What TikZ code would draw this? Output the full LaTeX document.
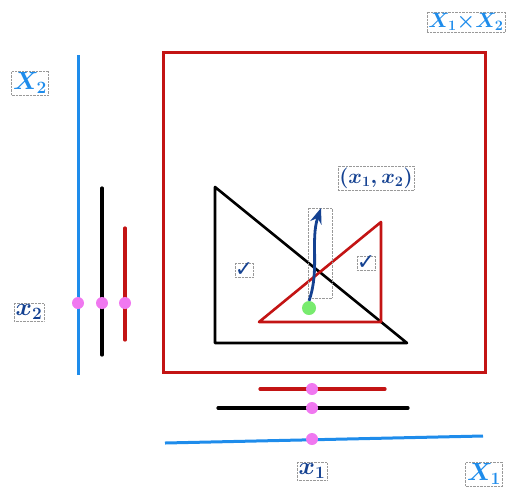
\documentclass[tikz,border=0pt]{standalone}
\usepackage{fontspec}
\newfontfamily\symfont{DejaVu Sans}
\usetikzlibrary{arrows.meta, positioning}
\definecolor{axisblue}{RGB}{30,140,235}
\definecolor{inkblue}{RGB}{20,65,145}
\definecolor{boxred}{RGB}{195,20,20}
\definecolor{dotpink}{RGB}{240,120,240}
\definecolor{dotgreen}{RGB}{120,235,110}

\begin{document}
\begin{tikzpicture}[
    x=1pt, y=-1pt,
    >=Stealth,
    lbl/.style={draw=gray!80, densely dotted, thin, inner sep=1.5pt,
        font=\fontsize{24}{26}\selectfont\boldmath},
    axis/.style={line width=3pt, axisblue},
    seg/.style={line width=3.2pt, line cap=round},
    pdot/.style={circle, fill=dotpink, minimum size=12pt, inner sep=0pt},
    tick/.style={lbl, text=inkblue, font=\symfont\fontsize{22}{22}\selectfont\bfseries, inner sep=0pt},
]
\useasboundingbox (0,0) rectangle (510,493);
% === Axes ===
\coordinate (ytop) at (78,55);
\coordinate (ybot) at (78,375);
\coordinate (xleft) at (165,443);
\coordinate (xright) at (483,436);
\draw[axis] (ytop) -- (ybot);
\draw[axis] (xleft) -- (xright);
\node[lbl, text=axisblue] (Ytwo) at (30,83) {$X_2$};
\node[lbl, text=axisblue] (Yone) at (484,474) {$X_1$};
\node[lbl, text=axisblue, font=\fontsize{21}{23}\selectfont\boldmath] (prod) at (466,22) {$X_1{\times}X_2$};
% === Product space ===
\draw[boxred, line width=3pt] (163,52) rectangle (485,372);
% === Projections on x2 ===
\coordinate (b1) at (102,188);
\coordinate (b2) at (102,355);
\coordinate (r1) at (125,228);
\coordinate (r2) at (125,340);
\draw[seg, black] (b1) -- (b2);
\draw[seg, boxred] (r1) -- (r2);
\node[pdot] (py0) at (78,303) {};
\node[pdot] (py1) at (102,303) {};
\node[pdot] (py2) at (125,303) {};
\node[lbl, text=inkblue] (xtwo) at (29,312) {$x_2$};
% === Projections on x1 ===
\coordinate (b3) at (218,408);
\coordinate (b4) at (408,408);
\coordinate (r3) at (260,389);
\coordinate (r4) at (385,389);
\draw[seg, black] (b3) -- (b4);
\draw[seg, boxred] (r3) -- (r4);
\node[pdot] (px2) at (312,389) {};
\node[pdot] (px1) at (312,408) {};
\node[pdot] (px0) at (312,439) {};
\node[lbl, text=inkblue] (xone) at (312,471) {$x_1$};
% === Sets ===
\draw[black, line width=2.6pt, line join=round] (215,187) -- (215,343) -- (407,343) -- cycle;
\draw[boxred, line width=2.6pt, line join=round] (259,322) -- (381,322) -- (381,222) -- cycle;
\node[tick] (ok1) at (244,270) {✓};
\node[tick] (ok2) at (366,263) {✓};
% === Point ===
\node[circle, fill=dotgreen, minimum size=14pt, inner sep=0pt] (pt) at (309,308) {};
\node[lbl, text=inkblue, font=\fontsize{22}{24}\selectfont\boldmath] (pair) at (376,178) {$(x_1,x_2)$};
\draw[densely dotted, gray!80, thin] (308,208) rectangle (332,298);
\coordinate (tip) at (321,208);
\draw[->, inkblue, line width=2.8pt] (pt.north) .. controls (320,270) and (310,240) .. (tip);
\end{tikzpicture}
\end{document}
